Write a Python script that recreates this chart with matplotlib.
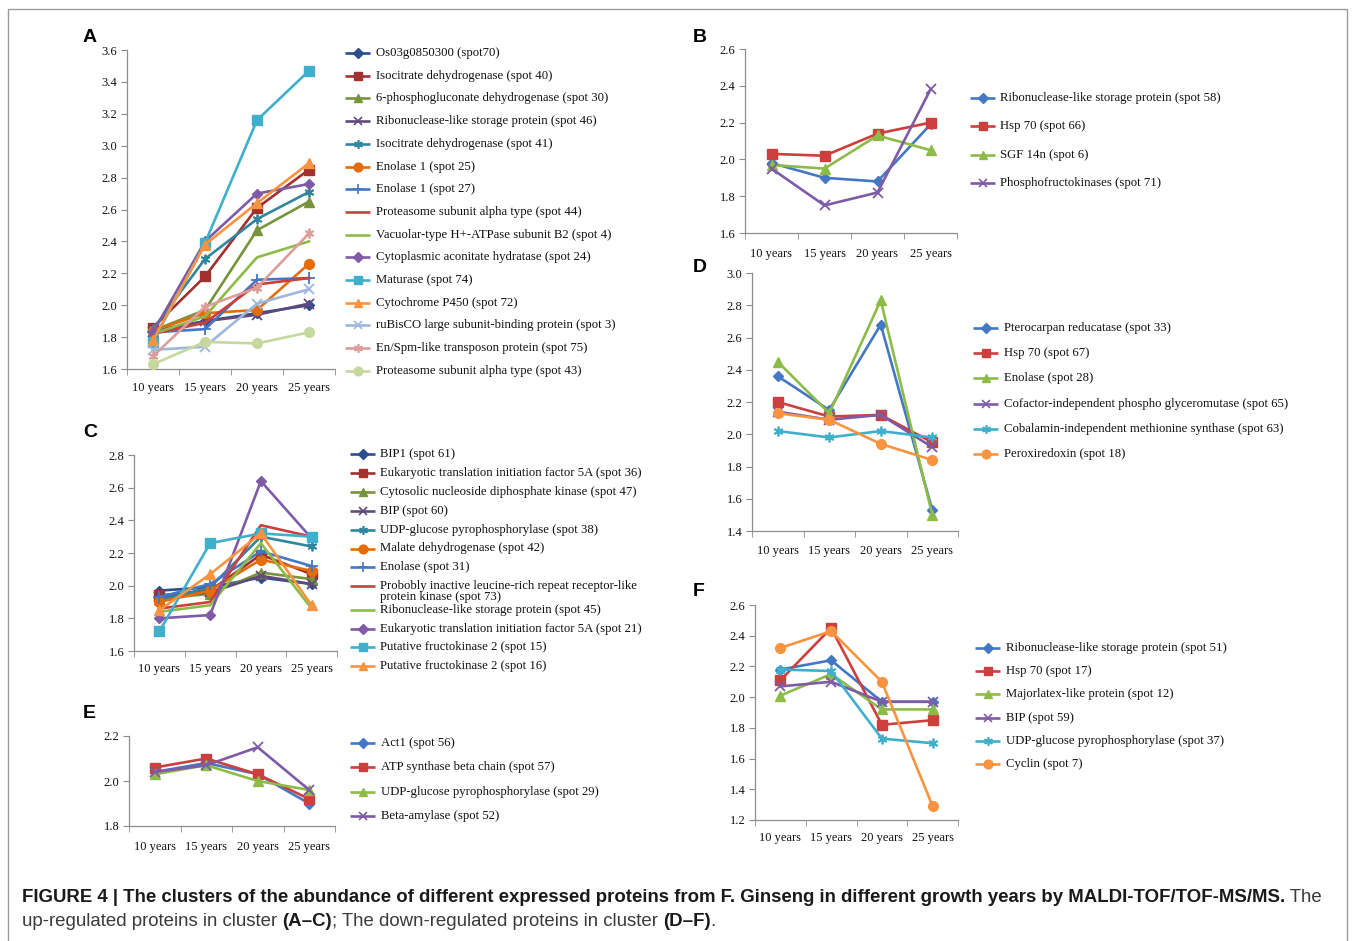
"""Protein abundance clusters across ginseng growth years (panels A-F)."""
import numpy as np
import matplotlib
matplotlib.use("Agg")
import matplotlib.pyplot as plt
from matplotlib.patches import Rectangle

W, H = 1355, 941
YEARS = ["10 years", "15 years", "20 years", "25 years"]
SERIF = ["Liberation Serif", "DejaVu Serif"]
SANS = ["Liberation Sans", "DejaVu Sans"]
NARROW = ["Liberation Sans Narrow", "Liberation Sans", "DejaVu Sans"]

# ---- panel A: up-regulated ----
a_labels = [
    "Os03g0850300 (spot70)",
    "Isocitrate dehydrogenase (spot 40)",
    "6-phosphogluconate dehydrogenase (spot 30)",
    "Ribonuclease-like storage protein (spot 46)",
    "Isocitrate dehydrogenase (spot 41)",
    "Enolase 1 (spot 25)",
    "Enolase 1 (spot 27)",
    "Proteasome subunit alpha type (spot 44)",
    "Vacuolar-type H+-ATPase subunit B2 (spot 4)",
    "Cytoplasmic aconitate hydratase (spot 24)",
    "Maturase (spot 74)",
    "Cytochrome P450 (spot 72)",
    "ruBisCO large subunit-binding protein (spot 3)",
    "En/Spm-like transposon protein (spot 75)",
    "Proteasome subunit alpha type (spot 43)",
]
a_values = [
    [1.84, 1.90, 1.95, 2.00],
    [1.86, 2.18, 2.61, 2.85],
    [1.84, 1.97, 2.47, 2.65],
    [1.83, 1.90, 1.94, 2.01],
    [1.85, 2.29, 2.54, 2.71],
    [1.84, 1.95, 1.97, 2.26],
    [1.83, 1.85, 2.16, 2.17],
    [1.82, 1.89, 2.13, 2.17],
    [1.82, 1.93, 2.30, 2.40],
    [1.83, 2.40, 2.70, 2.76],
    [1.77, 2.39, 3.16, 3.47],
    [1.78, 2.38, 2.64, 2.89],
    [1.72, 1.74, 2.01, 2.10],
    [1.68, 1.99, 2.11, 2.45],
    [1.63, 1.77, 1.76, 1.83],
]

# ---- panel B ----
b_labels = [
    "Ribonuclease-like storage protein (spot 58)",
    "Hsp 70 (spot 66)",
    "SGF 14n (spot 6)",
    "Phosphofructokinases (spot 71)",
]
b_values = [
    [1.98, 1.90, 1.88, 2.19],
    [2.03, 2.02, 2.14, 2.20],
    [1.97, 1.95, 2.13, 2.05],
    [1.95, 1.75, 1.82, 2.38],
]

# ---- panel C ----
c_labels = [
    "BIP1 (spot 61)",
    "Eukaryotic translation initiation factor 5A (spot 36)",
    "Cytosolic nucleoside diphosphate kinase (spot 47)",
    "BIP (spot 60)",
    "UDP-glucose pyrophosphorylase (spot 38)",
    "Malate dehydrogenase (spot 42)",
    "Enolase (spot 31)",
    "Probobly inactive leucine-rich repeat receptor-like\nprotein kinase (spot 73)",
    "Ribonuclease-like storage protein (spot 45)",
    "Eukaryotic translation initiation factor 5A (spot 21)",
    "Putative fructokinase 2 (spot 15)",
    "Putative fructokinase 2 (spot 16)",
]
c_values = [
    [1.97, 1.99, 2.05, 2.01],
    [1.94, 1.97, 2.19, 2.07],
    [1.92, 1.95, 2.08, 2.04],
    [1.93, 1.96, 2.06, 2.01],
    [1.91, 1.99, 2.30, 2.24],
    [1.90, 1.97, 2.16, 2.09],
    [1.93, 2.01, 2.21, 2.12],
    [1.86, 1.90, 2.37, 2.30],
    [1.84, 1.88, 2.26, 1.86],
    [1.80, 1.82, 2.64, 2.29],
    [1.72, 2.26, 2.32, 2.30],
    [1.85, 2.07, 2.32, 1.88],
]

# ---- panel D: down-regulated ----
d_labels = [
    "Pterocarpan reducatase (spot 33)",
    "Hsp 70 (spot 67)",
    "Enolase (spot 28)",
    "Cofactor-independent phospho glyceromutase (spot 65)",
    "Cobalamin-independent methionine synthase (spot 63)",
    "Peroxiredoxin (spot 18)",
]
d_values = [
    [2.36, 2.15, 2.68, 1.53],
    [2.20, 2.11, 2.12, 1.95],
    [2.45, 2.13, 2.83, 1.50],
    [2.14, 2.09, 2.12, 1.92],
    [2.02, 1.98, 2.02, 1.98],
    [2.13, 2.09, 1.94, 1.84],
]

# ---- panel E ----
e_labels = [
    "Act1 (spot 56)",
    "ATP synthase beta chain (spot 57)",
    "UDP-glucose pyrophosphorylase (spot 29)",
    "Beta-amylase (spot 52)",
]
e_values = [
    [2.04, 2.08, 2.03, 1.90],
    [2.06, 2.10, 2.03, 1.92],
    [2.03, 2.07, 2.00, 1.96],
    [2.04, 2.07, 2.15, 1.96],
]

# ---- panel F ----
f_labels = [
    "Ribonuclease-like storage protein (spot 51)",
    "Hsp 70 (spot 17)",
    "Majorlatex-like protein (spot 12)",
    "BIP (spot 59)",
    "UDP-glucose pyrophosphorylase (spot 37)",
    "Cyclin (spot 7)",
]
f_values = [
    [2.18, 2.24, 1.97, 1.97],
    [2.11, 2.45, 1.82, 1.85],
    [2.01, 2.15, 1.92, 1.92],
    [2.07, 2.10, 1.97, 1.97],
    [2.18, 2.17, 1.73, 1.70],
    [2.32, 2.43, 2.10, 1.29],
]

# Office-style palettes: darker, base and lighter accents
DARK = ["#2A4E8E", "#A2302F", "#77933C", "#604A7B", "#31859C", "#E46C0A"]
BASE = ["#4477C4", "#CC3F3C", "#8DBB48", "#7F5AA6", "#3FAFCB", "#F89440"]
LIGHT = ["#9DB8DC", "#DE9C9A", "#C5D89E"]
AST = (6, 2, 0)
MARKERS = ["D", "s", "^", "x", AST, "o"]

long_colors = DARK + BASE + LIGHT
long_markers = MARKERS + ["+", None, None, "D", "s", "^", "x", AST, "o"]
MS = {"D": 5.5, "s": 6.5, "^": 7, "x": 6.5, "o": 7, "+": 8, AST: 7}


def rows(first, step, n):
    return [first + i * step for i in range(n)]


# legend rows in panel C: the wrapped entry takes extra room
c_rows = rows(454, 18.9, 8) + rows(610, 18.7, 4)

panels = [
    # name, labels, values, colors, markers, axes px box, ylim, label pad,
    # legend (line x, row ys, text gap), letter position
    ("A", a_labels, a_values, long_colors, long_markers,
     (127, 50, 335, 369), (1.6, 3.6), 9.5, (345, rows(53, 22.7, 15), 6), (83, 37)),
    ("B", b_labels, b_values, BASE, MARKERS,
     (745, 49, 957, 233), (1.6, 2.6), 11, (970, rows(98, 28.3, 4), 5), (693, 37)),
    ("C", c_labels, c_values, long_colors, long_markers,
     (134, 455, 337, 651), (1.6, 2.8), 8.5, (350, c_rows, 5), (83, 432)),
    ("D", d_labels, d_values, BASE, MARKERS,
     (752, 273, 958, 531), (1.4, 3.0), 10, (973, rows(328, 25.2, 6), 6), (693, 268)),
    ("E", e_labels, e_values, BASE, MARKERS,
     (129, 736, 335, 826), (1.8, 2.2), 11, (350, rows(743, 24.3, 4), 6), (83, 714)),
    ("F", f_labels, f_values, BASE, MARKERS,
     (755, 605, 958, 820), (1.2, 2.6), 9, (975, rows(648, 23.2, 6), 6), (693, 592)),
]

SPINE = "#8C8C8C"

fig = plt.figure(figsize=(W / 100, H / 100), dpi=100)
fig.patch.set_facecolor("white")

# overlay in pixel coordinates for legends, letters and caption
ov = fig.add_axes([0, 0, 1, 1])
ov.set_xlim(0, W)
ov.set_ylim(H, 0)
ov.axis("off")
ov.patch.set_alpha(0)

fig.patches.append(Rectangle((8 / W, -0.02), (1347 - 8) / W, 1 - 9 / H + 0.02,
                             transform=fig.transFigure, fill=False,
                             edgecolor="#9A9A9A", lw=1.0))

x = np.arange(len(YEARS))
for (name, labels, values, colors, markers, box, ylim, pad,
     leg, letter) in panels:
    x0, y0, x1, y1 = box
    ax = fig.add_axes([x0 / W, 1 - y1 / H, (x1 - x0) / W, (y1 - y0) / H])
    ax.patch.set_alpha(0)
    for i, vals in enumerate(values):
        m = markers[i]
        ax.plot(x, vals, color=colors[i], lw=1.9, marker=m,
                ms=MS.get(m, 0), mec=colors[i], mew=1.3 if m in ("x", "+", AST) else 1,
                clip_on=False, zorder=3)
    ax.set_xlim(-0.5, 3.5)
    ax.set_ylim(*ylim)
    ticks = np.arange(ylim[0], ylim[1] + 1e-9, 0.2)
    ax.set_yticks(ticks)
    ax.set_yticklabels([f"{t:.1f}" for t in ticks])
    ax.set_xticks(x)
    ax.set_xticklabels(YEARS)
    ax.set_xticks(np.arange(-0.5, 4, 1), minor=True)
    ax.tick_params(axis="x", which="major", length=0, pad=pad)
    ax.tick_params(axis="x", which="minor", length=4, color=SPINE, direction="out")
    ax.tick_params(axis="y", length=4, color=SPINE, direction="out", pad=3)
    for lab in ax.get_xticklabels() + ax.get_yticklabels():
        lab.set_family(SERIF)
        lab.set_fontsize(9)
        lab.set_color("#111111")
    for s in ("top", "right"):
        ax.spines[s].set_visible(False)
    for s in ("left", "bottom"):
        ax.spines[s].set_color(SPINE)
        ax.spines[s].set_linewidth(0.9)

    # legend keys drawn beside the panel
    lx, ys, gap = leg
    for i, lab in enumerate(labels):
        m = markers[i]
        yy = ys[i]
        ov.plot([lx, lx + 25], [yy, yy], color=colors[i], lw=1.9,
                solid_capstyle="butt")
        if m is not None:
            ov.plot([lx + 12.5], [yy], marker=m, ms=MS[m] * 0.9, color=colors[i],
                    mec=colors[i], mew=1.2 if m in ("x", "+", AST) else 1)
        for k, part in enumerate(lab.split("\n")):
            ov.text(lx + 25 + gap, yy + k * 10.5, part, family=SERIF, fontsize=9.2,
                    va="center", ha="left", color="#111111")

    ov.text(letter[0], letter[1], name, family=SANS, fontsize=14,
            fontweight="bold", va="center", ha="left", color="black")

# caption, built from bold and regular runs
cap1 = [
    ("FIGURE 4 | The clusters of the abundance of different expressed proteins "
     "from F. Ginseng in different growth years by MALDI-TOF/TOF-MS/MS.", "bold", "#1A1A1A"),
    (" The", "normal", "#3A3A3A"),
]
cap2 = [
    ("up-regulated proteins in cluster ", "normal", "#3A3A3A"),
    ("(A\u2013C)", "bold", "#1A1A1A"),
    ("; The down-regulated proteins in cluster ", "normal", "#3A3A3A"),
    ("(D\u2013F)", "bold", "#1A1A1A"),
    (".", "normal", "#3A3A3A"),
]

renderer = fig.canvas.get_renderer()


def draw_runs(runs, x_start, y, fs):
    xx = x_start
    made = []
    for txt, weight, col in runs:
        t = ov.text(xx, y, txt, family=NARROW, fontsize=fs, fontweight=weight,
                    va="center", ha="left", color=col)
        xx += t.get_window_extent(renderer).width
        made.append(t)
    return xx, made


fs = 12.5
end, made = draw_runs(cap1, 22, 897, fs)
for t in made:
    t.remove()
fs *= (1326 - 22) / (end - 22)
draw_runs(cap1, 22, 897, fs)
draw_runs(cap2, 22, 922, fs)

fig.savefig("out.png", dpi=100)
